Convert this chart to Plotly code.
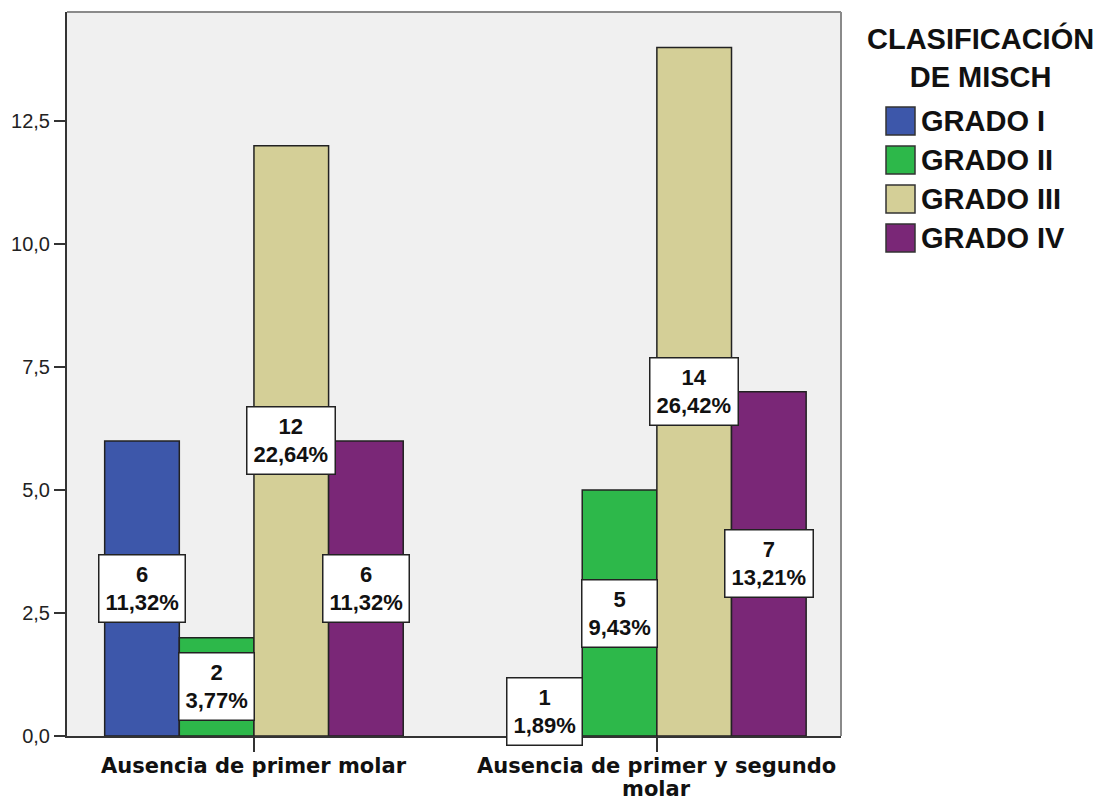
import plotly.graph_objects as go

categories = ["Ausencia de primer molar", "Ausencia de primer y segundo<br>molar"]
series_names = ["GRADO I", "GRADO II", "GRADO III", "GRADO IV"]
counts = {
    "GRADO I": [6, 1],
    "GRADO II": [2, 5],
    "GRADO III": [12, 14],
    "GRADO IV": [6, 7],
}
percents = {
    "GRADO I": ["11,32%", "1,89%"],
    "GRADO II": ["3,77%", "9,43%"],
    "GRADO III": ["22,64%", "26,42%"],
    "GRADO IV": ["11,32%", "13,21%"],
}
colors = ["#3D57AA", "#2DB84A", "#D4CF97", "#7A2777"]
legend_title = "CLASIFICACIÓN<br>DE MISCH"

W, H = 1113, 801
L, R, T, B = 67, 272, 12, 65
BARGAP = 0.259

xpos = list(range(len(categories)))

fig = go.Figure()
for i, name in enumerate(series_names):
    fig.add_trace(go.Bar(
        x=xpos, y=counts[name], name=name,
        marker=dict(color=colors[i], line=dict(color="#222222", width=1.5)),
        showlegend=False,
    ))

# data labels at the middle of each bar
n = len(series_names)
bw = (1 - BARGAP) / n
annotations = []
for i, name in enumerate(series_names):
    for j, xc in enumerate(xpos):
        v = counts[name][j]
        annotations.append(dict(
            x=xc + (i - (n - 1) / 2) * bw, y=v / 2, xref="x", yref="y",
            text=f"{v}<br>{percents[name][j]}", showarrow=False,
            font=dict(family="Liberation Sans, Arial", size=22, color="#111111", weight="bold"),
            bgcolor="white", bordercolor="#222222", borderwidth=1.5, borderpad=6,
            align="center",
        ))

pw = W - L - R
ph = H - T - B
def px2x(px):
    return (px - L) / pw
def py2y(py):
    return (H - B - py) / ph

# category labels (tight line spacing as in the reference)
for j, cat in enumerate(categories):
    for k, line in enumerate(cat.split("<br>")):
        annotations.append(dict(
            x=xpos[j], xref="x", y=py2y(752 + 23 * k), yref="paper",
            text=line, showarrow=False, xanchor="center", yanchor="top",
            font=dict(family="DejaVu Sans", size=21, color="#111111", weight="bold"),
        ))

# manual legend
annotations.append(dict(
    x=px2x(980), y=py2y(57), xref="paper", yref="paper",
    text=legend_title, showarrow=False, xanchor="center", yanchor="middle",
    font=dict(family="Liberation Sans, Arial", size=29, color="#111111", weight="bold"),
    align="center",
))
shapes = []
for i, name in enumerate(series_names):
    cy = 121 + 39 * i
    shapes.append(dict(
        type="rect", xref="paper", yref="paper",
        x0=px2x(886), x1=px2x(915), y0=py2y(cy + 14), y1=py2y(cy - 14),
        fillcolor=colors[i], line=dict(color="#333333", width=1.5),
    ))
    annotations.append(dict(
        x=px2x(919), y=py2y(cy), xref="paper", yref="paper",
        text=name, showarrow=False, xanchor="left", yanchor="middle",
        font=dict(family="Liberation Sans, Arial", size=29, color="#111111", weight="bold"),
    ))

# top and right frame
shapes.append(dict(type="line", xref="paper", yref="paper", x0=0, x1=1, y0=1, y1=1,
                   line=dict(color="#8a8a8a", width=2)))
shapes.append(dict(type="line", xref="paper", yref="paper", x0=1, x1=1, y0=0, y1=1,
                   line=dict(color="#8a8a8a", width=2)))

fig.update_layout(
    width=W, height=H,
    margin=dict(l=L, r=R, t=T, b=B, autoexpand=False),
    paper_bgcolor="white", plot_bgcolor="#F0F0F0",
    barmode="group", bargap=BARGAP, bargroupgap=0,
    separators=",.",
    annotations=annotations, shapes=shapes,
    xaxis=dict(
        range=[-0.464, 1.457], tickvals=xpos, showticklabels=False,
        showline=True, linecolor="#333333", linewidth=1.5,
        ticks="outside", ticklen=14, tickwidth=1.5, tickcolor="#333333",
        showgrid=False, zeroline=False, automargin=False,
    ),
    yaxis=dict(
        range=[0, 14.72], dtick=2.5, tickformat=".1f",
        showline=True, linecolor="#333333", linewidth=2,
        ticks="outside", ticklen=11, tickwidth=2, tickcolor="#333333",
        showgrid=False, zeroline=False, automargin=False,
        tickfont=dict(family="Liberation Sans, Arial", size=20, color="#222222"),
    ),
)

fig.write_html("out.html")
